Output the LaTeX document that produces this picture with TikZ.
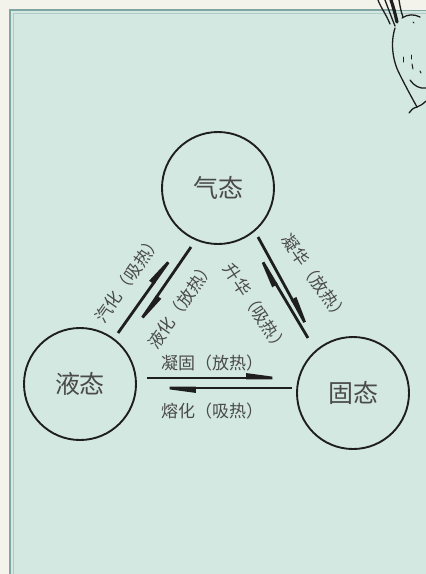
\documentclass[tikz,border=0pt]{standalone}
\usepackage{fontspec}
\newfontfamily\cjk{Noto Sans CJK SC}
\usetikzlibrary{arrows.meta}
\definecolor{panel}{HTML}{D3E8E1}
\definecolor{paper}{HTML}{F3F2EB}
\definecolor{frame}{HTML}{7FA6A3}
\definecolor{ink}{HTML}{1E1E1E}
\definecolor{txt}{HTML}{4A4A4A}
\begin{document}
\begin{tikzpicture}[x=1pt,y=-1pt,
  state/.style={circle,draw=ink,line width=1.9pt,minimum size=112pt,inner sep=0pt,
    font=\cjk\fontsize{25}{25}\selectfont,text=txt},
  flow/.style={draw=ink,line width=2.8pt,
    -{Triangle[harpoon,length=38pt,width=9pt]}},
  tag/.style={font=\cjk\fontsize{17}{17}\selectfont,text=txt,inner sep=0pt},
  sketch/.style={draw=ink,line width=1.3pt,line cap=round}]
\useasboundingbox (0,0) rectangle (426,574);
% paper and tinted panel
\fill[paper] (0,0) rectangle (426,574);
\fill[panel] (10,10) rectangle (440,590);
\draw[frame,line width=1.3pt] (440,10) -- (10,10) -- (10,590);
\draw[frame!60,line width=0.6pt] (440,13) -- (13,13) -- (13,590);

% the three states
\node[state] (gas)    at (218,188) {气态};
\node[state] (liquid) at (80,384)  {液态};
\node[state] (solid)  at (353,393) {固态};

% end points of the paired arrows
\coordinate (lg-a) at (118,333); \coordinate (lg-b) at (182,243);
\coordinate (gl-a) at (191,247); \coordinate (gl-b) at (129,337);
\coordinate (gs-a) at (258,237); \coordinate (gs-b) at (316,343);
\coordinate (sg-a) at (308,338); \coordinate (sg-b) at (251,242);
\coordinate (ls-a) at (147,378); \coordinate (ls-b) at (296,378);
\coordinate (sl-a) at (292,388); \coordinate (sl-b) at (146,388);

\draw[flow] (lg-a) -- (lg-b);
\draw[flow] (gl-a) -- (gl-b);
\draw[flow] (gs-a) -- (gs-b);
\draw[flow] (sg-a) -- (sg-b);
\draw[flow] (ls-a) -- (ls-b);
\draw[flow] (sl-a) -- (sl-b);

% process labels
\node[tag,rotate=55]  (t1) at (128,279) {汽化（吸热）};
\node[tag,rotate=55]  (t2) at (181,305) {液化（放热）};
\node[tag,rotate=-57] (t3) at (256,308) {升华（吸热）};
\node[tag,rotate=-55] (t4) at (315,278) {凝华（放热）};
\node[tag] (t5) at (212,363) {凝固（放热）};
\node[tag] (t6) at (212,411) {熔化（吸热）};

% little figure peeking in at the corner
\fill[paper] (396,0) rectangle (426,10);
\draw[sketch] (378,0) .. controls (381,8) and (386,14) .. (390,24);
\draw[sketch] (385,0) .. controls (388,8) and (391,16) .. (395,26);
\draw[sketch,line width=3.2pt] (391,0) .. controls (393,6) and (395,13) .. (397,22);
\draw[sketch] (399,0) .. controls (400,6) and (401,12) .. (403,17);
\draw[sketch] (395,28) .. controls (390,44) and (393,62) .. (400,75)
  .. controls (406,87) and (412,98) .. (417,107);
\draw[sketch] (417,107) .. controls (413,108) and (411,110) .. (409,113);
\draw[sketch] (417,107) .. controls (420,106) and (423,104) .. (426,101);
\draw[sketch] (410,80) .. controls (414,86) and (420,89) .. (426,88);
\draw[sketch] (402,18) .. controls (408,14) and (414,14) .. (420,17);
\draw[sketch,line width=1pt] (403,57) -- (403,62);
\draw[sketch,line width=1pt] (411,55) -- (411,59);
\draw[sketch,line width=1pt] (412,64) -- (413,69);
\draw[sketch,line width=1pt] (420,71) -- (421,73);
\draw[sketch,line width=1pt] (413,22) -- (414,23);
\end{tikzpicture}
\end{document}
